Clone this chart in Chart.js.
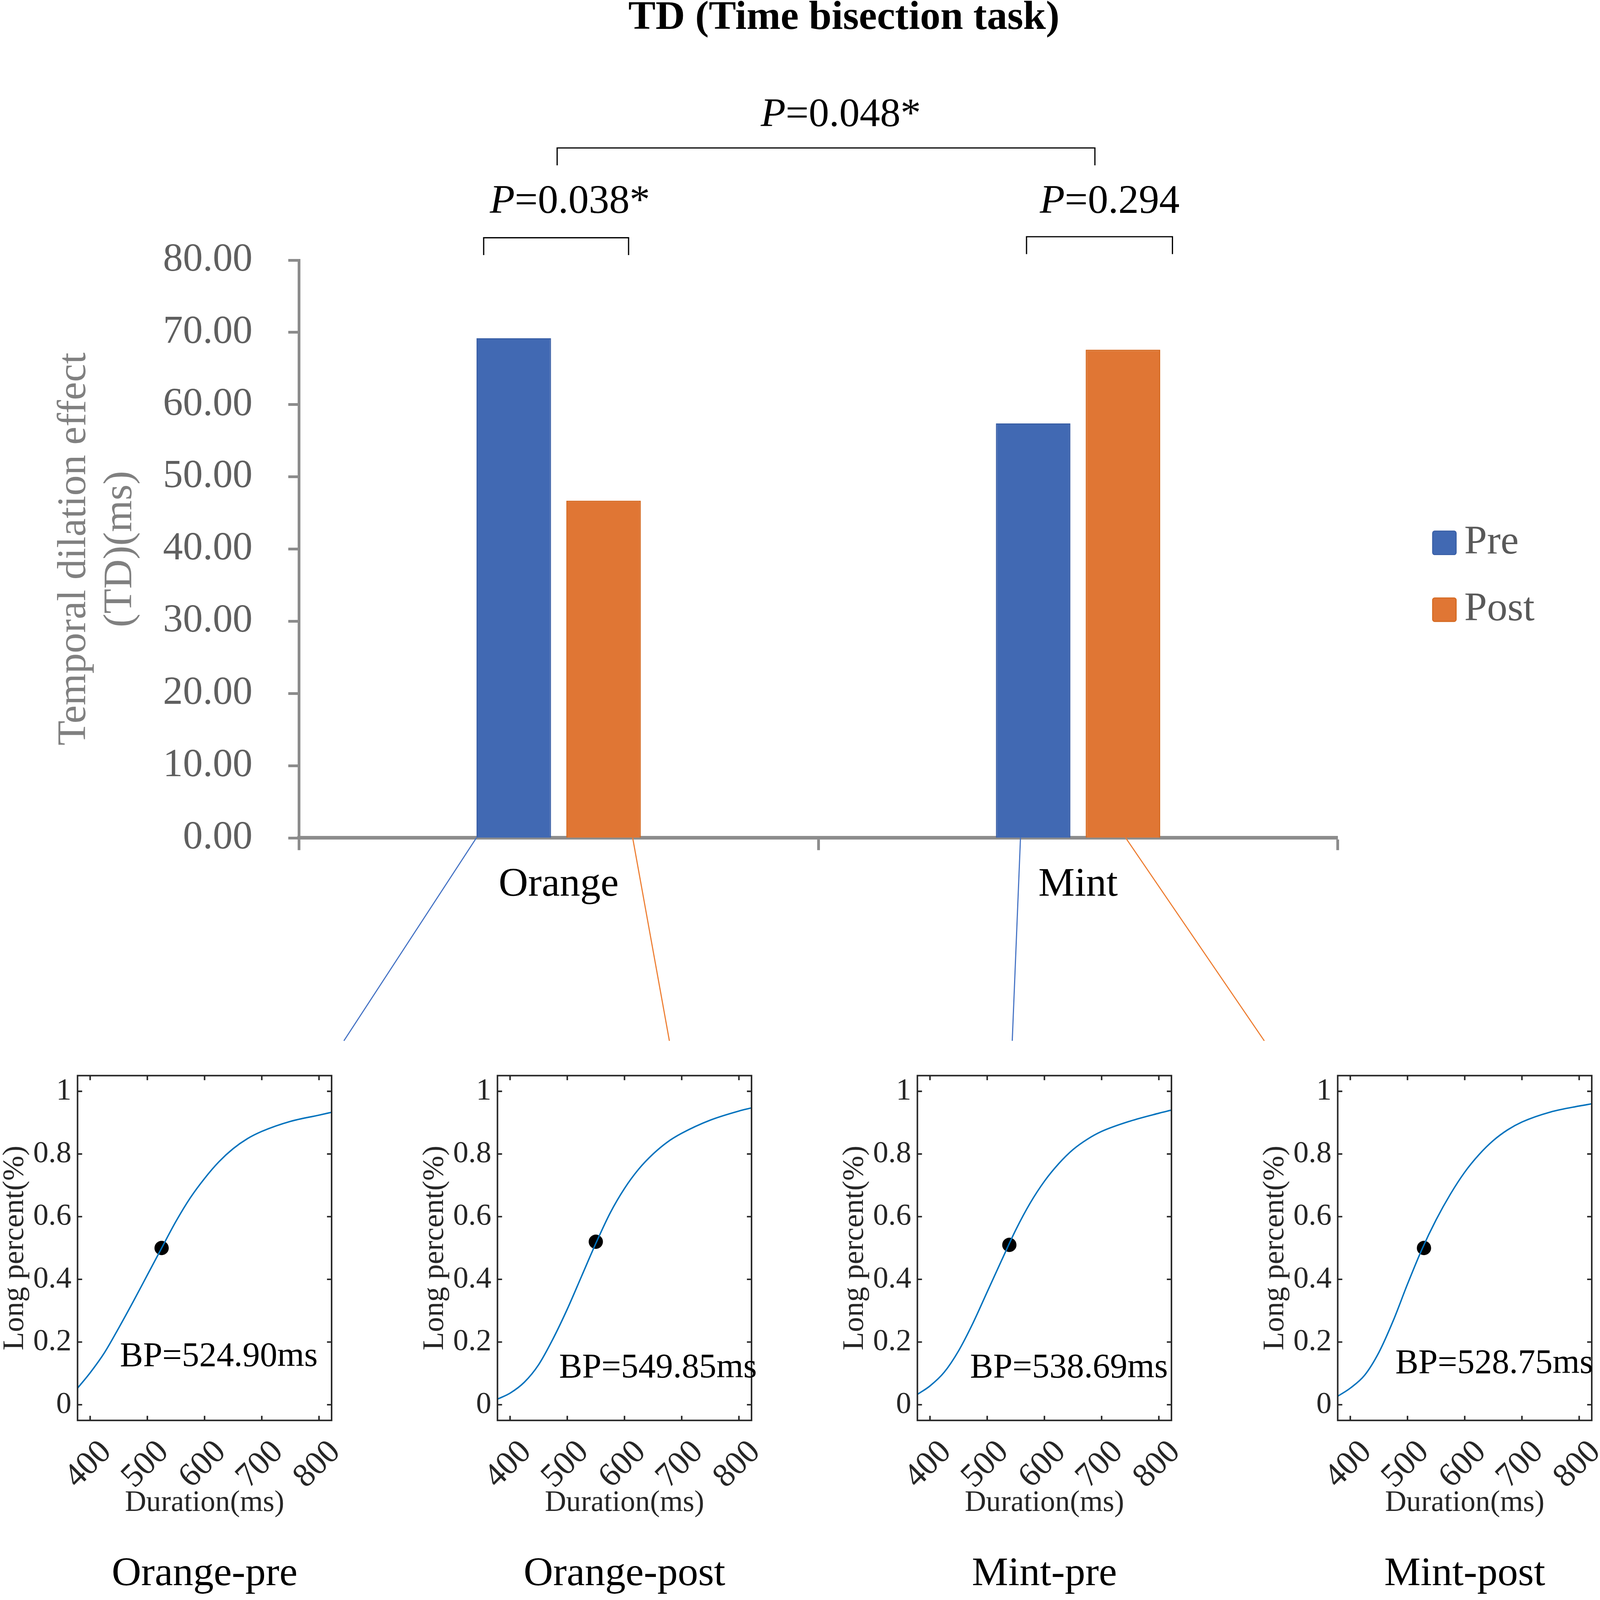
<!DOCTYPE html>
<html>
<head>
<meta charset="utf-8">
<title>TD (Time bisection task)</title>
<script src="https://cdn.jsdelivr.net/npm/chart.js@4.4.1/dist/chart.umd.min.js"></script>
<style>
  html, body { margin: 0; padding: 0; background: #fff; overflow: hidden; }
  #page { position: relative; background: #fff; overflow: hidden; }
  #page canvas { position: absolute; }
</style>
</head>
<body>
<div id="page">
  <canvas id="main"></canvas>
  <canvas id="panel0"></canvas>
  <canvas id="panel1"></canvas>
  <canvas id="panel2"></canvas>
  <canvas id="panel3"></canvas>
</div>
<script>
// ---- data ----
const categories = ['Orange', 'Mint'];
const seriesNames = ['Pre', 'Post'];
const preValues = [69.2, 57.4];
const postValues = [46.7, 67.6];
const pValues = ['0.038*', '0.294', '0.048*'];

const panelTitles = ['Orange-pre', 'Orange-post', 'Mint-pre', 'Mint-post'];
const durations = [378, 400, 425, 450, 475, 500, 525, 550, 575, 600, 625, 650, 675, 700, 750, 800, 822];
const orangePreCurve  = [0.053, 0.102, 0.166, 0.245, 0.328, 0.414, 0.500, 0.585, 0.660, 0.722, 0.775, 0.817, 0.849, 0.872, 0.904, 0.924, 0.933];
const orangePostCurve = [0.018, 0.037, 0.072, 0.128, 0.210, 0.305, 0.410, 0.515, 0.612, 0.690, 0.752, 0.800, 0.838, 0.866, 0.908, 0.937, 0.947];
const mintPreCurve    = [0.033, 0.060, 0.104, 0.172, 0.260, 0.360, 0.460, 0.558, 0.643, 0.713, 0.769, 0.814, 0.847, 0.872, 0.905, 0.930, 0.940];
const mintPostCurve   = [0.027, 0.053, 0.094, 0.167, 0.268, 0.385, 0.495, 0.590, 0.672, 0.742, 0.798, 0.843, 0.877, 0.902, 0.934, 0.953, 0.960];
const curves = [orangePreCurve, orangePostCurve, mintPreCurve, mintPostCurve];
const bpValues = [524.90, 549.85, 538.69, 528.75];
const bpLevels = [0.50, 0.52, 0.51, 0.50];
const durationTicks = [400, 500, 600, 700, 800];
const percentTicks = [0, 0.2, 0.4, 0.6, 0.8, 1];

// ---- layout helpers (design units: 1568 = full page side) ----
const SIDE = Math.min(window.innerWidth || 4212, window.innerHeight || 4212);
const S = SIDE / 1568;
const u = v => v * S;
const SERIF = "'Liberation Serif', 'Times New Roman', serif";
const AXIS_GRAY = '#8c8c8c';
const barColors = ['#4169b3', '#e07634'];
const barBorders = ['#3a5fa6', '#d4681f'];
const linkColors = ['#4472c4', '#ed7d31'];

const page = document.getElementById('page');
page.style.width = SIDE + 'px';
page.style.height = SIDE + 'px';

const brackets = [
  { label: pValues[0], left: [0, -73.5], right: [0, 68.5], y: 233, drop: 17, textY: 198, shift: 13.5 },
  { label: pValues[1], left: [1, -50.5], right: [1, 92.5], y: 232, drop: 17, textY: 198, shift: 10 },
  { label: pValues[2], left: [0, -1.5], right: [1, 16.5], y: 145, drop: 17, textY: 113, shift: 14.5 }
];
// which bar feeds which small panel: [dataset, category]
const links = [[0, 0], [1, 0], [0, 1], [1, 1]];
const linkStart = [0, 0.89, 0.33, 0.535];
const linkEnd = [337, 656, 992, 1239];

function drawP(ctx, text, cx, cy, size) {
  const italic = 'italic ' + size + 'px ' + SERIF;
  const roman = size + 'px ' + SERIF;
  ctx.font = italic;
  const wP = ctx.measureText('P').width;
  ctx.font = roman;
  const rest = '=' + text;
  const wR = ctx.measureText(rest).width;
  const x0 = cx - (wP + wR) / 2;
  ctx.textAlign = 'left';
  ctx.textBaseline = 'middle';
  ctx.font = italic;
  ctx.fillText('P', x0, cy);
  ctx.font = roman;
  ctx.fillText(rest, x0 + wP, cy);
}

const decorPlugin = {
  id: 'decor',
  afterDraw(chart) {
    const ctx = chart.ctx;
    const xs = chart.scales.x;
    ctx.save();

    // title
    ctx.fillStyle = '#000';
    ctx.font = 'bold ' + u(40) + 'px ' + SERIF;
    ctx.textAlign = 'center';
    ctx.textBaseline = 'middle';
    ctx.fillText('TD (Time bisection task)', u(827), u(18));

    // significance brackets
    ctx.strokeStyle = '#000';
    ctx.lineWidth = u(1.2);
    brackets.forEach(b => {
      const x1 = xs.getPixelForValue(b.left[0]) + u(b.left[1]);
      const x2 = xs.getPixelForValue(b.right[0]) + u(b.right[1]);
      ctx.beginPath();
      ctx.moveTo(x1, u(b.y + b.drop));
      ctx.lineTo(x1, u(b.y));
      ctx.lineTo(x2, u(b.y));
      ctx.lineTo(x2, u(b.y + b.drop));
      ctx.stroke();
      ctx.fillStyle = '#000';
      drawP(ctx, b.label, (x1 + x2) / 2 + u(b.shift), u(b.textY), u(40));
    });

    // legend
    chart.data.datasets.forEach((ds, i) => {
      const top = u(520.5 + i * 65.5);
      ctx.fillStyle = ds.backgroundColor;
      ctx.strokeStyle = ds.borderColor;
      ctx.lineWidth = u(1);
      ctx.beginPath();
      ctx.roundRect(u(1404), top, u(23), u(23), u(2));
      ctx.fill();
      ctx.stroke();
      ctx.fillStyle = '#595959';
      ctx.font = u(40) + 'px ' + SERIF;
      ctx.textAlign = 'left';
      ctx.textBaseline = 'middle';
      ctx.fillText(ds.label, u(1435), top + u(11.5));
    });

    // connector lines to the small panels
    ctx.lineWidth = u(1.1);
    links.forEach(([d, c], k) => {
      const el = chart.getDatasetMeta(d).data[c];
      const p = el.getProps(['x', 'width', 'base'], true);
      const sx = p.x - p.width / 2 + linkStart[k] * p.width;
      ctx.strokeStyle = linkColors[d];
      ctx.beginPath();
      ctx.moveTo(sx, p.base);
      ctx.lineTo(u(linkEnd[k]), u(1020));
      ctx.stroke();
    });
    ctx.restore();
  }
};

const mainCanvas = document.getElementById('main');
mainCanvas.width = Math.round(SIDE);
mainCanvas.height = Math.round(u(1030));
mainCanvas.style.left = '0px';
mainCanvas.style.top = '0px';

new Chart(mainCanvas, {
  type: 'bar',
  data: {
    labels: categories,
    datasets: [
      { label: seriesNames[0], data: preValues, backgroundColor: barColors[0], borderColor: barBorders[0], borderWidth: u(1.2) },
      { label: seriesNames[1], data: postValues, backgroundColor: barColors[1], borderColor: barBorders[1], borderWidth: u(1.2) }
    ]
  },
  options: {
    responsive: false,
    animation: false,
    events: [],
    layout: { padding: { left: 0, top: u(255), right: u(1568 - 1311), bottom: 0 } },
    datasets: { bar: { categoryPercentage: 0.3458, barPercentage: 0.83 } },
    plugins: {
      legend: { display: false },
      tooltip: { enabled: false },
      title: { display: false }
    },
    scales: {
      x: {
        z: 1,
        grid: { display: true, drawOnChartArea: false, offset: true, tickLength: u(12), tickWidth: u(2.7), tickColor: AXIS_GRAY },
        border: { display: true, color: AXIS_GRAY, width: u(3.5) },
        ticks: { color: '#000', font: { family: SERIF, size: u(40) }, padding: u(10) },
        afterFit: s => { s.height = u(1030 - 821); }
      },
      y: {
        min: 0,
        max: 80,
        ticks: {
          stepSize: 10,
          callback: v => Number(v).toFixed(2),
          color: '#5f5f5f',
          font: { family: SERIF, size: u(39) },
          padding: u(35)
        },
        grid: { drawOnChartArea: false, tickLength: u(10.5), tickWidth: u(2.7), tickColor: AXIS_GRAY },
        border: { display: true, color: AXIS_GRAY, width: u(2.7) },
        title: {
          display: true,
          text: ['Temporal dilation effect', '(TD)(ms)'],
          color: '#808080',
          font: { family: SERIF, size: u(40), lineHeight: 1.125 },
          padding: { top: u(50.5), bottom: 0 }
        },
        afterFit: s => { s.width = u(293); }
      }
    }
  },
  plugins: [decorPlugin]
});

// ---- small psychometric panels ----
const bpTextX = [452, 485.6, 470, 478.6];
const bpTextY = [0.153, 0.117, 0.117, 0.13];

const framePlugin = {
  id: 'frame',
  afterDraw(chart, args, opts) {
    const { ctx, chartArea: a } = chart;
    const x = chart.scales.x, y = chart.scales.y;
    ctx.save();
    ctx.strokeStyle = '#262626';
    ctx.lineWidth = u(1.5);
    ctx.strokeRect(a.left, a.top, a.right - a.left, a.bottom - a.top);
    const t = u(4.5);
    ctx.beginPath();
    x.ticks.forEach(tk => {
      const px = x.getPixelForValue(tk.value);
      ctx.moveTo(px, a.bottom); ctx.lineTo(px, a.bottom - t);
      ctx.moveTo(px, a.top); ctx.lineTo(px, a.top + t);
    });
    y.ticks.forEach(tk => {
      const py = y.getPixelForValue(tk.value);
      ctx.moveTo(a.left, py); ctx.lineTo(a.left + t, py);
      ctx.moveTo(a.right, py); ctx.lineTo(a.right - t, py);
    });
    ctx.stroke();
    ctx.fillStyle = '#000';
    ctx.font = u(34) + 'px ' + SERIF;
    ctx.textAlign = 'left';
    ctx.textBaseline = 'middle';
    ctx.fillText(opts.text, x.getPixelForValue(opts.atX), y.getPixelForValue(opts.atY));
    ctx.restore();
  }
};

curves.forEach((curve, i) => {
  const c = document.getElementById('panel' + i);
  const boxLeft = 76 + i * 411.6;
  c.width = Math.round(u(335));
  c.height = Math.round(u(528));
  c.style.left = Math.round(u(boxLeft - 76)) + 'px';
  c.style.top = Math.round(u(1040)) + 'px';

  new Chart(c, {
    type: 'line',
    data: {
      datasets: [
        {
          data: durations.map((d, k) => ({ x: d, y: curve[k] })),
          borderColor: '#0072bd',
          borderWidth: u(1.4),
          pointRadius: 0,
          cubicInterpolationMode: 'monotone',
          fill: false
        },
        {
          type: 'scatter',
          data: [{ x: bpValues[i], y: bpLevels[i] }],
          pointRadius: u(7),
          backgroundColor: '#000',
          borderColor: '#000',
          borderWidth: 0
        }
      ]
    },
    options: {
      responsive: false,
      animation: false,
      events: [],
      layout: { padding: { left: 0, top: u(14), right: u(10), bottom: u(1) } },
      plugins: {
        legend: { display: false },
        tooltip: { enabled: false },
        title: {
          display: true,
          text: panelTitles[i],
          position: 'bottom',
          fullSize: false,
          color: '#000',
          font: { family: SERIF, size: u(40), weight: 'normal', lineHeight: 1.2 },
          padding: 0
        },
        frame: { text: 'BP=' + bpValues[i].toFixed(2) + 'ms', atX: bpTextX[i], atY: bpTextY[i] }
      },
      scales: {
        x: {
          type: 'linear',
          min: 378,
          max: 822,
          afterBuildTicks: s => { s.ticks = durationTicks.map(v => ({ value: v })); },
          ticks: {
            minRotation: 45,
            maxRotation: 45,
            color: '#262626',
            font: { family: SERIF, size: u(33) },
            padding: u(12),
            labelOffset: u(16),
            callback: v => String(v)
          },
          grid: { display: false, drawTicks: false },
          border: { display: false },
          title: {
            display: true,
            text: 'Duration(ms)',
            color: '#262626',
            font: { family: SERIF, size: u(29), lineHeight: 1.2 },
            padding: { top: 0, bottom: u(28.6) }
          },
          afterFit: s => { s.height = u(127); s.paddingLeft = 0; s.paddingRight = 0; }
        },
        y: {
          min: -0.05,
          max: 1.05,
          afterBuildTicks: s => { s.ticks = percentTicks.map(v => ({ value: v })); },
          ticks: {
            color: '#262626',
            font: { family: SERIF, size: u(30) },
            padding: u(6),
            callback: v => String(Number(Number(v).toFixed(1)))
          },
          grid: { display: false, drawTicks: false },
          border: { display: false },
          title: {
            display: true,
            text: 'Long percent(%)',
            color: '#262626',
            font: { family: SERIF, size: u(29.5), lineHeight: 1.0 },
            padding: { top: 0, bottom: 0 }
          },
          afterFit: s => { s.width = u(76); s.paddingTop = 0; s.paddingBottom = 0; }
        }
      }
    },
    plugins: [framePlugin]
  });
});
</script>
</body>
</html>
